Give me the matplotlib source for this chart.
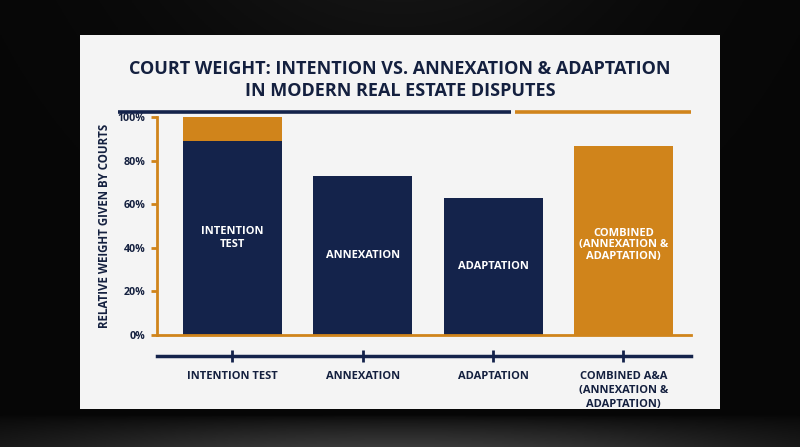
import numpy as np
import matplotlib
matplotlib.use('Agg')
import matplotlib.pyplot as plt
from matplotlib.patches import Rectangle
from matplotlib.lines import Line2D

# data
categories = ['INTENTION TEST', 'ANNEXATION', 'ADAPTATION',
              'COMBINED A&A\n(ANNEXATION &\nADAPTATION)']
bar_labels = ['INTENTION\nTEST', 'ANNEXATION', 'ADAPTATION',
              'COMBINED\n(ANNEXATION &\nADAPTATION)']
navy_values = [89, 73, 63, 0]
orange_values = [11, 0, 0, 87]
y_ticks = [0, 20, 40, 60, 80, 100]

NAVY = '#14234b'
ORANGE = '#d0841b'
TEXT = '#14203f'
plt.rcParams['font.family'] = ['Open Sans', 'DejaVu Sans']
plt.rcParams['font.weight'] = 'bold'

W, H = 800, 447
fig = plt.figure(figsize=(W / 100, H / 100), dpi=100)

# dark backdrop: black wall, grey floor glow under the card
bg = fig.add_axes([0, 0, 1, 1])
bg.set_xlim(0, 1)
bg.set_ylim(0, 1)
bg.axis('off')
yy, xx = np.mgrid[0:1:300j, 0:1:400j]   # row 0 = top
floor = np.clip((yy - 0.93) / 0.07, 0, 1) ** 0.7
glow = (0.025
        + 0.05 * np.exp(-((xx - 0.5) / 0.3) ** 2) * (1 - yy) ** 3
        + 0.2 * floor * np.exp(-((xx - 0.5) / 0.5) ** 2))
img = np.dstack([glow, glow, glow])
bg.imshow(img, extent=(0, 1, 0, 1), origin='upper', aspect='auto', zorder=0)
bg.add_patch(Rectangle((80 / W, 1 - 409 / H), 640 / W, 374 / H,
                       facecolor='#f4f4f4', edgecolor='none', zorder=1))

# title and two-tone rule
fig.text(0.5, 1 - 80 / H,
         'COURT WEIGHT: INTENTION VS. ANNEXATION & ADAPTATION\nIN MODERN REAL ESTATE DISPUTES',
         ha='center', va='center', fontsize=13, color=TEXT, fontweight='bold',
         linespacing=1.25)
fig.add_artist(Line2D([118 / W, 510.5 / W], [1 - 111.6 / H] * 2, color=NAVY, lw=2.6,
                      transform=fig.transFigure, solid_capstyle='butt'))
fig.add_artist(Line2D([514.7 / W, 690.6 / W], [1 - 111.6 / H] * 2, color=ORANGE, lw=2.6,
                      transform=fig.transFigure, solid_capstyle='butt'))

# main axes
ax = fig.add_axes([157 / W, 1 - 335 / H, (691 - 157) / W, (335 - 117.3) / H])
ax.patch.set_alpha(0)
x = np.arange(len(categories))
ax.bar(x, navy_values, width=0.76, color=NAVY, zorder=2)
ax.bar(x, orange_values, width=0.76, bottom=navy_values, color=ORANGE, zorder=2)

for i, lab in enumerate(bar_labels):
    total = navy_values[i] + orange_values[i]
    if navy_values[i] > 0:
        yc = navy_values[i] / 2
        ls = 1.25
    else:
        yc = total / 2 - 2
        ls = 1.05
    ax.text(x[i], yc, lab, ha='center', va='center', color='white',
            fontsize=8, fontweight='bold', linespacing=ls, zorder=3)

ax.set_xlim(-0.579, 3.518)
ax.set_ylim(0, 100)
for s in ['top', 'right']:
    ax.spines[s].set_visible(False)
for s in ['left', 'bottom']:
    ax.spines[s].set_color(ORANGE)
    ax.spines[s].set_linewidth(2)
ax.set_yticks(y_ticks)
ax.set_yticklabels([f'{v}%' for v in y_ticks])
ax.tick_params(axis='y', colors=ORANGE, labelcolor=TEXT, length=4.5, width=2,
               pad=4, labelsize=7.7)
ax.set_xticks([])

# navy category axis below the plot
sec = ax.secondary_xaxis(-0.0965)
sec.set_xticks(x)
sec.set_xticklabels(categories, fontsize=8, fontweight='bold', color=TEXT,
                    linespacing=1.38)
sec.spines['bottom'].set_color(NAVY)
sec.spines['bottom'].set_linewidth(2.5)
sec.tick_params(axis='x', direction='inout', length=9, width=2, colors=NAVY,
                labelcolor=TEXT, pad=6.5)

fig.text(104 / W, 1 - 226 / H, 'RELATIVE WEIGHT GIVEN BY COURTS', rotation=90,
         ha='center', va='center', fontsize=8.3, color=TEXT, fontweight='bold')

fig.savefig('out.png', dpi=100)
